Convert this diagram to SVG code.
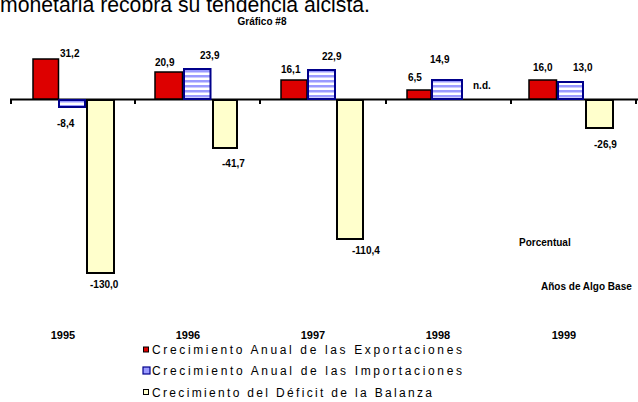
<svg xmlns="http://www.w3.org/2000/svg" width="638" height="402" viewBox="0 0 638 402">
<defs>
<pattern id="stripes" width="6" height="5" patternUnits="userSpaceOnUse">
<rect width="6" height="5" fill="#ffffff"/>
<rect y="0" width="6" height="2.5" fill="#9a9aff"/>
</pattern>
<style>
.lbl{font-family:"Liberation Sans",Arial,sans-serif;font-size:10px;font-weight:bold;fill:#000}
.yr{font-family:"Liberation Sans",Arial,sans-serif;font-size:11px;font-weight:bold;fill:#000;text-anchor:middle}
.leg{font-family:"Liberation Sans",Arial,sans-serif;font-size:12px;fill:#000}
.exp{fill:#dd0000;stroke:#000;stroke-width:1.5}
.imp{fill:url(#stripes);stroke:#00008b;stroke-width:2}
.def{fill:#ffffcc;stroke:#000;stroke-width:2}
</style>
</defs>
<rect width="638" height="402" fill="#ffffff"/>
<text x="0" y="12" font-family="Liberation Sans, Arial, sans-serif" font-size="22" textLength="370" lengthAdjust="spacingAndGlyphs">monetaria recobra su tendencia alcista.</text>
<text x="262" y="25" class="lbl" text-anchor="middle" font-size="9">Gráfico #8</text>

<g id="axis">
<line x1="10" y1="99.5" x2="638" y2="99.5" stroke="#000" stroke-width="2"/>
<line x1="11" y1="99" x2="11" y2="104" stroke="#000" stroke-width="2"/>
<line x1="135" y1="99" x2="135" y2="104" stroke="#000" stroke-width="2"/>
<line x1="260" y1="99" x2="260" y2="104" stroke="#000" stroke-width="2"/>
<line x1="386" y1="99" x2="386" y2="104" stroke="#000" stroke-width="2"/>
<line x1="511" y1="99" x2="511" y2="104" stroke="#000" stroke-width="2"/>
<line x1="636" y1="99" x2="636" y2="104" stroke="#000" stroke-width="2"/>
</g>

<g id="y1995">
<rect class="exp" x="33" y="59" width="25.5" height="40"/>
<rect class="imp" x="59" y="100" width="26" height="7"/>
<rect class="def" x="87" y="100" width="27" height="173"/>
<text class="lbl" x="60" y="57">31,2</text>
<text class="lbl" x="57" y="127">-8,4</text>
<text class="lbl" x="90" y="288">-130,0</text>
</g>
<g id="y1996">
<rect class="exp" x="155" y="72" width="27.5" height="27"/>
<rect class="imp" x="184" y="69" width="26.5" height="30"/>
<rect class="def" x="213" y="100" width="24" height="48"/>
<text class="lbl" x="155" y="66">20,9</text>
<text class="lbl" x="200" y="59">23,9</text>
<text class="lbl" x="222" y="167">-41,7</text>
</g>
<g id="y1997">
<rect class="exp" x="281" y="80" width="26" height="19"/>
<rect class="imp" x="308" y="70" width="27" height="29"/>
<rect class="def" x="337" y="100" width="26" height="139"/>
<text class="lbl" x="281" y="73">16,1</text>
<text class="lbl" x="322" y="60">22,9</text>
<text class="lbl" x="352" y="254">-110,4</text>
</g>
<g id="y1998">
<rect class="exp" x="407" y="90" width="24" height="9"/>
<rect class="imp" x="432" y="80" width="30" height="19"/>
<text class="lbl" x="408" y="81">6,5</text>
<text class="lbl" x="430" y="63">14,9</text>
<text class="lbl" x="473" y="89">n.d.</text>
</g>
<g id="y1999">
<rect class="exp" x="529" y="80" width="27.5" height="19"/>
<rect class="imp" x="558" y="82" width="25" height="17"/>
<rect class="def" x="586" y="100" width="27" height="28"/>
<text class="lbl" x="533" y="71">16,0</text>
<text class="lbl" x="573" y="71">13,0</text>
<text class="lbl" x="594" y="148">-26,9</text>
</g>

<text class="lbl" x="519" y="246" font-size="9">Porcentual</text>
<text class="lbl" x="541" y="290" font-size="9">Años de Algo Base</text>

<g id="years">
<text class="yr" x="63" y="339">1995</text>
<text class="yr" x="188" y="339">1996</text>
<text class="yr" x="313" y="339">1997</text>
<text class="yr" x="438" y="339">1998</text>
<text class="yr" x="564" y="339">1999</text>
</g>

<g id="legend">
<rect x="143.5" y="347" width="5" height="5" fill="#dd0000" stroke="#000" stroke-width="1"/>
<text class="leg" x="152" y="354" textLength="310" lengthAdjust="spacing">Crecimiento Anual de las Exportaciones</text>
<rect x="143" y="367" width="7" height="7" fill="#9a9aff" stroke="#00008b" stroke-width="1.2"/>
<text class="leg" x="152" y="375" textLength="310" lengthAdjust="spacing">Crecimiento Anual de las Importaciones</text>
<rect x="143.5" y="389.5" width="5" height="5" fill="#ffffcc" stroke="#000" stroke-width="1"/>
<text class="leg" x="152" y="397" textLength="280" lengthAdjust="spacing">Crecimiento del Déficit de la Balanza</text>
</g>
</svg>
